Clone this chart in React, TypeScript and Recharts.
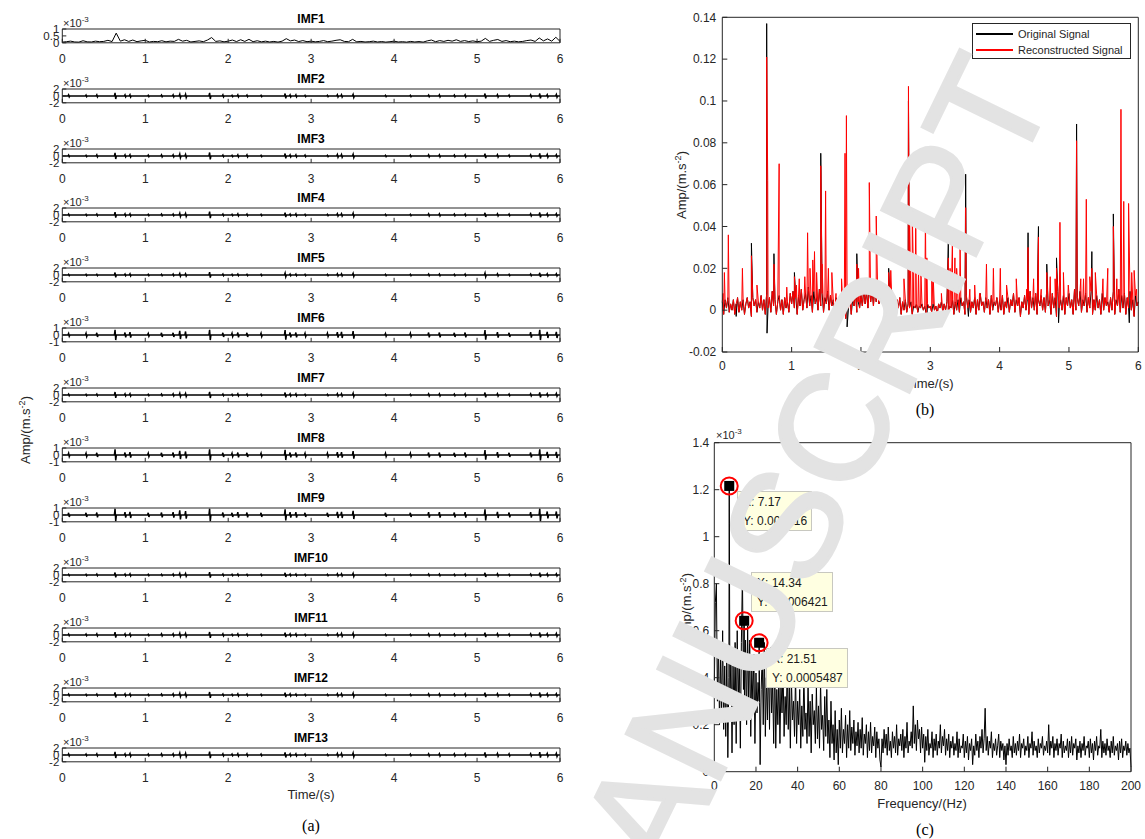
import React from "react";
import { ComposedChart, Line, LineChart, ReferenceDot, XAxis, YAxis } from "recharts";

const FONT = "'Liberation Sans', Arial, Helvetica, sans-serif";
const SERIF = "'Liberation Serif', 'Times New Roman', serif";
const INK = "#262626";
const RED = "#ff0000";
const MARK = "#e3e3e3";

// ---------- (a) IMF components, amplitude in 1e-3 m/s^2 ----------
const imfTitles = ["IMF1", "IMF2", "IMF3", "IMF4", "IMF5", "IMF6", "IMF7", "IMF8", "IMF9", "IMF10", "IMF11", "IMF12", "IMF13"];
const imfRange = [1, 2, 2, 2, 2, 1, 2, 1, 1, 2, 2, 2, 2];
const timeTicks = [0, 1, 2, 3, 4, 5, 6];

// IMF1 envelope sampled every 0.05 s
const imf1 = [
  0.05, 0.08, 0.12, 0.06, 0.05, 0.15, 0.07, 0.06, 0.12, 0.08, 0.1, 0.18, 0.09, 0.7, 0.12, 0.22, 0.1, 0.2, 0.08, 0.14,
  0.18, 0.06, 0.1, 0.08, 0.15, 0.07, 0.12, 0.1, 0.25, 0.12, 0.18, 0.06, 0.1, 0.14, 0.08, 0.2, 0.38, 0.1, 0.14, 0.07,
  0.12, 0.2, 0.09, 0.22, 0.1, 0.25, 0.08, 0.15, 0.07, 0.12, 0.06, 0.1, 0.05, 0.12, 0.3, 0.14, 0.2, 0.09, 0.16, 0.08,
  0.12, 0.07, 0.1, 0.16, 0.08, 0.12, 0.18, 0.22, 0.1, 0.08, 0.25, 0.07, 0.1, 0.06, 0.08, 0.12, 0.06, 0.09, 0.05, 0.08,
  0.12, 0.06, 0.08, 0.05, 0.1, 0.06, 0.09, 0.05, 0.14, 0.2, 0.08, 0.16, 0.1, 0.18, 0.12, 0.22, 0.1, 0.16, 0.09, 0.14,
  0.08, 0.12, 0.32, 0.1, 0.18, 0.24, 0.1, 0.16, 0.08, 0.12, 0.07, 0.1, 0.16, 0.2, 0.1, 0.35, 0.14, 0.28, 0.12, 0.4,
  0.1,
];

// impact bursts shared by IMF2..IMF13 (s)
const burstTimes = [
  0.08, 0.29, 0.42, 0.64, 0.76, 0.82, 1.04, 1.2, 1.34, 1.42, 1.49, 1.78, 1.94, 2.05, 2.12, 2.23, 2.4, 2.69, 2.75,
  2.82, 2.93, 3.2, 3.32, 3.37, 3.51, 3.9, 4.2, 4.42, 4.55, 4.73, 4.86, 5.1, 5.25, 5.39, 5.65, 5.76, 5.85, 5.96,
];

const imfBursts = [
  [0.3, 0.25, 0.3, 0.9, 0.3, 0.35, 0.2, 0.25, 0.3, 0.5, 0.5, 0.9, 0.3, 0.2, 0.3, 0.25, 0.2, 0.7, 0.3, 0.3, 0.2, 0.2, 0.35, 0.35, 0.45, 0.2, 0.2, 0.25, 0.3, 0.25, 0.3, 0.7, 0.35, 0.25, 0.3, 0.7, 0.35, 0.4],
  [0.25, 0.2, 0.3, 0.9, 0.3, 0.35, 0.25, 0.3, 0.3, 0.55, 0.45, 1.0, 0.25, 0.2, 0.3, 0.3, 0.2, 0.7, 0.3, 0.3, 0.25, 0.2, 0.4, 0.4, 0.5, 0.2, 0.25, 0.3, 0.3, 0.25, 0.3, 0.65, 0.35, 0.25, 0.3, 0.75, 0.4, 0.35],
  [0.25, 0.2, 0.25, 0.8, 0.3, 0.3, 0.2, 0.25, 0.25, 0.5, 0.45, 0.95, 0.25, 0.2, 0.3, 0.25, 0.2, 0.65, 0.25, 0.3, 0.2, 0.2, 0.35, 0.35, 0.5, 0.2, 0.2, 0.3, 0.3, 0.25, 0.25, 0.6, 0.3, 0.25, 0.3, 0.7, 0.35, 0.35],
  [0.2, 0.2, 0.2, 0.7, 0.25, 0.3, 0.2, 0.2, 0.25, 0.4, 0.35, 0.8, 0.25, 0.2, 0.25, 0.2, 0.2, 0.55, 0.25, 0.25, 0.2, 0.2, 0.3, 0.3, 0.45, 0.2, 0.2, 0.25, 0.25, 0.2, 0.25, 0.55, 0.3, 0.2, 0.25, 0.6, 0.3, 0.3],
  [0.2, 0.25, 0.3, 0.75, 0.35, 0.4, 0.2, 0.3, 0.3, 0.6, 0.5, 0.75, 0.3, 0.25, 0.35, 0.3, 0.25, 0.7, 0.35, 0.35, 0.25, 0.25, 0.4, 0.45, 0.55, 0.2, 0.25, 0.35, 0.35, 0.3, 0.35, 0.7, 0.4, 0.3, 0.4, 0.75, 0.45, 0.45],
  [0.25, 0.2, 0.25, 0.85, 0.3, 0.35, 0.2, 0.25, 0.3, 0.5, 0.45, 0.9, 0.25, 0.2, 0.3, 0.25, 0.2, 0.7, 0.3, 0.3, 0.2, 0.2, 0.35, 0.35, 0.5, 0.2, 0.2, 0.3, 0.3, 0.25, 0.3, 0.7, 0.35, 0.25, 0.3, 0.75, 0.35, 0.4],
  [0.25, 0.25, 0.3, 0.8, 0.35, 0.4, 0.25, 0.3, 0.35, 0.6, 0.5, 0.8, 0.3, 0.25, 0.35, 0.3, 0.25, 0.75, 0.35, 0.35, 0.25, 0.25, 0.4, 0.4, 0.55, 0.25, 0.25, 0.35, 0.35, 0.3, 0.35, 0.7, 0.4, 0.3, 0.35, 0.8, 0.45, 0.45],
  [0.3, 0.3, 0.35, 0.9, 0.4, 0.45, 0.3, 0.35, 0.4, 0.65, 0.55, 0.9, 0.35, 0.3, 0.4, 0.35, 0.3, 0.8, 0.4, 0.4, 0.3, 0.3, 0.45, 0.45, 0.6, 0.3, 0.3, 0.4, 0.4, 0.35, 0.4, 0.8, 0.45, 0.35, 0.4, 0.9, 0.5, 0.5],
  [0.2, 0.2, 0.25, 0.7, 0.25, 0.3, 0.2, 0.2, 0.25, 0.45, 0.4, 0.8, 0.25, 0.2, 0.25, 0.2, 0.2, 0.6, 0.25, 0.25, 0.2, 0.2, 0.3, 0.3, 0.45, 0.2, 0.2, 0.25, 0.25, 0.2, 0.25, 0.6, 0.3, 0.2, 0.25, 0.65, 0.3, 0.3],
  [0.25, 0.25, 0.3, 0.8, 0.3, 0.35, 0.2, 0.3, 0.3, 0.5, 0.45, 0.85, 0.3, 0.2, 0.3, 0.25, 0.2, 0.65, 0.3, 0.3, 0.2, 0.2, 0.35, 0.4, 0.5, 0.2, 0.2, 0.3, 0.3, 0.25, 0.3, 0.65, 0.35, 0.25, 0.3, 0.7, 0.35, 0.4],
  [0.25, 0.2, 0.25, 0.75, 0.3, 0.3, 0.2, 0.25, 0.3, 0.5, 0.45, 0.85, 0.25, 0.2, 0.3, 0.25, 0.2, 0.65, 0.3, 0.25, 0.2, 0.2, 0.35, 0.35, 0.5, 0.2, 0.2, 0.3, 0.3, 0.25, 0.3, 0.65, 0.35, 0.25, 0.3, 0.7, 0.35, 0.35],
  [0.3, 0.25, 0.3, 0.9, 0.3, 0.4, 0.25, 0.3, 0.3, 0.55, 0.5, 0.95, 0.3, 0.25, 0.35, 0.3, 0.25, 0.75, 0.3, 0.3, 0.25, 0.2, 0.4, 0.4, 0.55, 0.2, 0.25, 0.3, 0.35, 0.3, 0.3, 0.75, 0.4, 0.3, 0.35, 0.8, 0.4, 0.45],
];

// ---------- (b) original vs reconstructed, m/s^2 ----------
// noise floor sampled every 0.02 s (shared by both signals)
const noiseFloor = [
  0.004, -0.002, 0.005, 0.001, 0.006, -0.001, 0.003, 0.0, 0.005, -0.002,
  0.003, 0.006, -0.001, 0.004, 0.0, 0.005, -0.002, 0.003, 0.006, 0.001,
  0.004, -0.003, 0.006, 0.002, 0.005, -0.001, 0.004, 0.001, 0.007, 0.0,
  0.005, -0.002, 0.008, 0.001, 0.006, -0.001, 0.009, 0.002, 0.005, -0.002,
  0.004, 0.007, 0.0, 0.005, -0.002, 0.006, 0.001, 0.004, -0.001, 0.008,
  0.003, 0.009, 0.001, 0.006, -0.002, 0.007, 0.002, 0.01, 0.0, 0.005,
  0.008, 0.001, 0.011, 0.002, 0.007, -0.001, 0.009, 0.003, 0.006, 0.0,
  0.01, 0.002, 0.008, -0.001, 0.006, 0.003, 0.009, 0.0, 0.007, 0.002,
  0.005, -0.002, 0.006, 0.001, 0.004, -0.003, 0.007, 0.002, 0.005, -0.004,
  0.006, 0.001, 0.008, -0.002, 0.005, 0.002, 0.009, -0.001, 0.004, 0.001,
  0.007, 0.002, 0.01, 0.003, 0.009, 0.001, 0.011, 0.004, 0.01, 0.002,
  0.012, 0.004, 0.011, 0.003, 0.012, 0.005, 0.01, 0.002, 0.011, 0.004,
  0.009, 0.002, 0.01, 0.001, 0.007, -0.001, 0.005, 0.001, 0.006, -0.002,
  0.004, 0.0, 0.005, -0.001, 0.003, 0.001, 0.004, -0.002, 0.002, 0.001,
  0.003, -0.001, 0.002, 0.001, 0.003, 0.0, 0.002, -0.002, 0.003, 0.001,
  0.002, -0.001, 0.003, 0.0, 0.002, -0.002, 0.003, 0.001, 0.004, -0.001,
  0.003, 0.0, 0.004, -0.001, 0.002, 0.001, 0.005, -0.002, 0.004, 0.0,
  0.005, -0.001, 0.006, 0.002, 0.004, -0.002, 0.007, 0.001, 0.005, -0.001,
  0.004, 0.001, 0.006, -0.002, 0.005, 0.0, 0.008, 0.002, 0.004, -0.001,
  0.006, 0.001, 0.005, -0.002, 0.007, 0.0, 0.004, 0.002, 0.006, -0.001,
  0.005, 0.0, 0.007, -0.002, 0.004, 0.001, 0.006, -0.001, 0.005, 0.002,
  0.008, -0.001, 0.005, 0.002, 0.006, -0.003, 0.004, 0.001, 0.007, 0.0,
  0.005, -0.002, 0.009, 0.001, 0.006, 0.0, 0.008, -0.002, 0.005, 0.002,
  0.007, 0.0, 0.006, -0.001, 0.01, 0.002, 0.005, -0.002, 0.008, 0.001,
  0.006, -0.003, 0.009, 0.001, 0.005, 0.0, 0.007, -0.002, 0.006, 0.002,
  0.008, 0.001, 0.005, -0.002, 0.01, 0.0, 0.006, 0.002, 0.009, -0.001,
  0.005, 0.002, 0.008, -0.001, 0.006, 0.001, 0.009, -0.002, 0.005, 0.0,
  0.007, 0.001, 0.005, -0.002, 0.008, 0.0, 0.006, 0.002, 0.004, -0.001,
  0.006, 0.0, 0.009, -0.002, 0.005, 0.002, 0.01, -0.001, 0.007, 0.001,
  0.008, -0.002, 0.006, 0.001, 0.009, 0.0, 0.005, -0.003, 0.007, 0.002,
  0.004,
];

// [time s, amplitude]
const reconSpikes = [
  [0.01, 0.008], [0.03, 0.018], [0.087, 0.036], [0.29, 0.02], [0.42, 0.026], [0.5, 0.012], [0.64, 0.121], [0.655, 0.062],
  [0.745, 0.022], [0.82, 0.07], [0.93, 0.011], [1.04, 0.016], [1.07, 0.012], [1.11, 0.015], [1.19, 0.016], [1.23, 0.037],
  [1.265, 0.02], [1.305, 0.024], [1.33, 0.028], [1.36, 0.018], [1.42, 0.069], [1.44, 0.022], [1.49, 0.057], [1.53, 0.02],
  [1.58, 0.018], [1.64, 0.008], [1.72, 0.015], [1.77, 0.075], [1.79, 0.093], [1.86, 0.005], [1.94, 0.022], [1.965, 0.02],
  [2.04, 0.01], [2.12, 0.061], [2.22, 0.045], [2.4, 0.018], [2.43, 0.019], [2.62, 0.015], [2.685, 0.107], [2.7, 0.048],
  [2.74, 0.048], [2.755, 0.02], [2.79, 0.045], [2.83, 0.019], [2.865, 0.018], [2.93, 0.045], [2.95, 0.025], [3.02, 0.02],
  [3.04, 0.018], [3.16, 0.008], [3.26, 0.025], [3.285, 0.02], [3.32, 0.036], [3.355, 0.025], [3.38, 0.02], [3.43, 0.03],
  [3.51, 0.049], [3.57, 0.01], [3.64, 0.012], [3.71, 0.008], [3.81, 0.022], [3.91, 0.02], [4.01, 0.02], [4.1, 0.012],
  [4.24, 0.015], [4.39, 0.01], [4.41, 0.03], [4.49, 0.015], [4.56, 0.035], [4.6, 0.01], [4.68, 0.018], [4.73, 0.016],
  [4.8, 0.015], [4.82, 0.02], [4.87, 0.042], [4.92, 0.018], [4.99, 0.012], [5.11, 0.081], [5.17, 0.015], [5.21, 0.015],
  [5.25, 0.053], [5.3, 0.016], [5.33, 0.02], [5.38, 0.018], [5.49, 0.015], [5.56, 0.02], [5.64, 0.04], [5.69, 0.015],
  [5.75, 0.096], [5.79, 0.052], [5.86, 0.051], [5.905, 0.018], [5.94, 0.019], [5.975, 0.01],
];

// peaks / dips where the original rises above the reconstruction
const origSpikes = [
  [0.2, -0.003], [0.42, 0.032], [0.64, 0.137], [0.645, -0.011], [0.745, 0.027], [1.04, 0.018], [1.42, 0.075],
  [1.8, -0.008], [1.94, 0.027], [2.4, 0.02], [2.685, 0.1], [2.95, -0.004], [3.26, 0.032], [3.51, 0.065], [3.55, -0.003],
  [4.41, 0.037], [4.56, 0.04], [4.68, 0.022], [4.82, 0.025], [4.85, -0.006], [5.11, 0.089], [5.33, 0.028], [5.64, 0.046],
  [5.87, -0.006],
];
const ampTicks = [-0.02, 0, 0.02, 0.04, 0.06, 0.08, 0.1, 0.12, 0.14];

// ---------- (c) spectrum, amplitude in 1e-3 m/s^2, 0.5 Hz bins 0..200 Hz ----------
const spectrumAmp = [
  0.35, 0.72, 0.8, 0.3, 0.55, 0.2, 0.48, 0.25, 0.6, 0.18,
  0.45, 0.15, 0.52, 0.06, 0.4, 0.3, 0.5, 0.08, 0.45, 0.2,
  0.55, 0.12, 0.6, 0.3, 0.48, 0.1, 0.55, 0.84, 0.35, 0.25,
  0.56, 0.2, 0.62, 0.28, 0.56, 0.15, 0.45, 0.3, 0.5, 0.12,
  0.42, 0.25, 0.38, 0.3, 0.03, 0.35, 0.5, 0.2, 0.55, 0.15,
  0.4, 0.22, 0.48, 0.18, 0.53, 0.25, 0.38, 0.12, 0.5, 0.1,
  0.35, 0.2, 0.42, 0.12, 0.38, 0.25, 0.45, 0.15, 0.32, 0.2,
  0.46, 0.18, 0.36, 0.1, 0.4, 0.22, 0.3, 0.15, 0.42, 0.12,
  0.3, 0.2, 0.35, 0.1, 0.28, 0.15, 0.42, 0.18, 0.25, 0.12,
  0.38, 0.15, 0.3, 0.08, 0.33, 0.2, 0.26, 0.12, 0.36, 0.14,
  0.28, 0.1, 0.38, 0.18, 0.24, 0.09, 0.32, 0.15, 0.35, 0.12,
  0.22, 0.06, 0.3, 0.12, 0.2, 0.05, 0.26, 0.08, 0.18, 0.03,
  0.22, 0.1, 0.27, 0.08, 0.18, 0.12, 0.24, 0.06, 0.2, 0.1,
  0.26, 0.09, 0.19, 0.12, 0.22, 0.07, 0.17, 0.11, 0.21, 0.08,
  0.18, 0.1, 0.23, 0.07, 0.16, 0.12, 0.2, 0.06, 0.17, 0.09,
  0.21, 0.08, 0.15, 0.11, 0.19, 0.06, 0.17, 0.1, 0.14, 0.05,
  0.02, 0.14, 0.08, 0.18, 0.1, 0.16, 0.07, 0.19, 0.09, 0.13,
  0.06, 0.17, 0.1, 0.15, 0.08, 0.2, 0.07, 0.14, 0.11, 0.16,
  0.09, 0.18, 0.06, 0.15, 0.1, 0.21, 0.08, 0.13, 0.11, 0.17,
  0.1, 0.28, 0.12, 0.2, 0.09, 0.22, 0.14, 0.18, 0.08, 0.19,
  0.1, 0.16, 0.04, 0.15, 0.09, 0.18, 0.07, 0.12, 0.1, 0.17,
  0.06, 0.14, 0.09, 0.16, 0.07, 0.13, 0.1, 0.2, 0.08, 0.15,
  0.11, 0.18, 0.07, 0.14, 0.09, 0.16, 0.06, 0.13, 0.1, 0.15,
  0.07, 0.12, 0.09, 0.17, 0.06, 0.14, 0.08, 0.11, 0.1, 0.16,
  0.06, 0.13, 0.08, 0.15, 0.05, 0.12, 0.09, 0.14, 0.03, 0.11,
  0.07, 0.16, 0.09, 0.13, 0.06, 0.15, 0.1, 0.18, 0.08, 0.14,
  0.27, 0.09, 0.15, 0.07, 0.13, 0.1, 0.17, 0.06, 0.12, 0.09,
  0.14, 0.07, 0.11, 0.16, 0.06, 0.13, 0.09, 0.12, 0.05, 0.11,
  0.03, 0.12, 0.07, 0.14, 0.09, 0.11, 0.06, 0.15, 0.08, 0.12,
  0.07, 0.13, 0.09, 0.16, 0.06, 0.12, 0.1, 0.14, 0.07, 0.11,
  0.09, 0.15, 0.06, 0.12, 0.1, 0.17, 0.07, 0.13, 0.09, 0.11,
  0.06, 0.14, 0.08, 0.12, 0.1, 0.15, 0.07, 0.11, 0.09, 0.13,
  0.08, 0.2, 0.07, 0.13, 0.1, 0.15, 0.06, 0.12, 0.09, 0.14,
  0.07, 0.12, 0.1, 0.16, 0.06, 0.13, 0.08, 0.11, 0.09, 0.14,
  0.06, 0.13, 0.08, 0.15, 0.07, 0.12, 0.1, 0.14, 0.05, 0.11,
  0.08, 0.13, 0.06, 0.12, 0.09, 0.15, 0.07, 0.11, 0.1, 0.13,
  0.06, 0.14, 0.08, 0.12, 0.05, 0.13, 0.09, 0.15, 0.07, 0.11,
  0.1, 0.18, 0.06, 0.13, 0.08, 0.12, 0.07, 0.14, 0.09, 0.11,
  0.06, 0.13, 0.08, 0.15, 0.07, 0.11, 0.09, 0.12, 0.05, 0.13,
  0.08, 0.14, 0.06, 0.11, 0.09, 0.13, 0.07, 0.12, 0.08, 0.1,
  0.02,
];
// data-tip peaks: rotating frequency and harmonics
const harmonicPeaks = [
  { f: 7.17, v: 1.216 },
  { f: 14.34, v: 0.6421 },
  { f: 21.51, v: 0.5487 },
];
const freqTicks = [0, 20, 40, 60, 80, 100, 120, 140, 160, 180, 200];
const specTicks = [0, 0.2, 0.4, 0.6, 0.8, 1, 1.2, 1.4];

// data-tip box placement
const tipBoxes = [
  { left: 737, top: 491, width: 75 },
  { left: 751, top: 572, width: 82 },
  { left: 766, top: 648, width: 82 },
];

const imf1Data = imf1.map((v, i) => ({ t: i * 0.05, v }));

function burstSeries(amps: number[]) {
  const pts = [{ t: 0, v: 0 }];
  burstTimes.forEach((t, i) => {
    const a = amps[i];
    pts.push({ t: t - 0.012, v: 0 }, { t: t - 0.004, v: a }, { t: t + 0.004, v: -a }, { t: t + 0.012, v: 0 });
  });
  pts.push({ t: 6, v: 0 });
  return pts;
}

function withSpikes(spikes: number[][]) {
  const pts = noiseFloor.map((v, i) => ({ t: i * 0.02, v }));
  spikes.forEach(([t, v]) => pts.push({ t, v }));
  return pts.sort((a, b) => a.t - b.t);
}

const originalData = withSpikes(origSpikes);
const reconData = withSpikes(reconSpikes);

const spectrumData = spectrumAmp
  .map((v, i) => ({ f: i * 0.5, v }))
  .concat(harmonicPeaks.map((p) => ({ f: p.f, v: p.v })))
  .sort((a, b) => a.f - b.f);

const tick = { fontSize: 12, fill: INK, fontFamily: FONT };
const fmt = (v: number) => String(Number(v.toFixed(3)));

const abs = (left: number, top: number, extra: React.CSSProperties = {}): React.CSSProperties => ({
  position: "absolute",
  left,
  top,
  ...extra,
});

function AmpLabel({ x, y }: { x: number; y: number }) {
  return (
    <div
      style={abs(x - 60, y - 10, {
        width: 120,
        height: 20,
        textAlign: "center",
        transform: "rotate(-90deg)",
        fontFamily: FONT,
        fontSize: 13,
        color: INK,
        lineHeight: "20px",
        whiteSpace: "nowrap",
      })}
    >
      Amp/(m.s<sup style={{ fontSize: 9 }}>-2</sup>)
    </div>
  );
}

function Exponent({ x, y }: { x: number; y: number }) {
  return (
    <div style={abs(x, y - 8, { fontFamily: FONT, fontSize: 11, color: INK, lineHeight: "14px", whiteSpace: "nowrap" })}>
      ×10<sup style={{ fontSize: 8 }}>-3</sup>
    </div>
  );
}

// axes are 1px thick (zero-sized axes are not drawn); margins are reduced to match
function BoxAxes({ xKey, xDomain, xTicks, yDomain, yTicks, ts, xm, ym, yFont }: any) {
  return [
    <XAxis key="xb" type="number" dataKey={xKey} domain={xDomain} ticks={xTicks} interval={0} height={1} stroke={INK}
      tickSize={-ts} tickMargin={xm} tick={tick} />,
    <XAxis key="xt" xAxisId="top" orientation="top" type="number" dataKey={xKey} domain={xDomain} ticks={xTicks}
      interval={0} height={1} stroke={INK} tickSize={-ts} tick={false} />,
    <YAxis key="yl" type="number" domain={yDomain} ticks={yTicks} interval={0} width={1} stroke={INK} tickSize={-ts}
      tickMargin={ym} tick={{ ...tick, fontSize: yFont }} tickFormatter={fmt} />,
    <YAxis key="yr" yAxisId="right" orientation="right" type="number" domain={yDomain} ticks={yTicks} interval={0}
      width={1} stroke={INK} tickSize={-ts} tick={false} />,
  ];
}

function ImfPanel({ k }: { k: number }) {
  const top = 28.7 + 59.9 * k;
  const r = imfRange[k];
  const domain = k === 0 ? [0, 1] : [-r, r];
  const yTicks = k === 0 ? [0, 0.5, 1] : [-r, 0, r];
  const data = k === 0 ? imf1Data : burstSeries(imfBursts[k - 1]);
  return (
    <>
      <div style={abs(0, top - 10)}>
        <LineChart width={575} height={50} margin={{ top: 9, right: 14, bottom: 25.2, left: 61.3 }}>
          {BoxAxes({ xKey: "t", xDomain: [0, 6], xTicks: timeTicks, yDomain: domain, yTicks, ts: 4, xm: 15.2, ym: 7, yFont: 11.5 })}
          <Line data={data} dataKey="v" type="linear" stroke="#000" strokeWidth={k === 0 ? 1 : 1.5} dot={false} isAnimationActive={false} />
        </LineChart>
      </div>
      <div style={abs(211, top - 17, { width: 200, textAlign: "center", fontFamily: FONT, fontWeight: "bold", fontSize: 12, color: "#000", lineHeight: "14px" })}>
        {imfTitles[k]}
      </div>
      <Exponent x={63} y={top - 8} />
    </>
  );
}

function Legend() {
  const rows = [
    { label: "Original Signal", color: "#000" },
    { label: "Reconstructed Signal", color: RED },
  ];
  return (
    <div style={abs(972, 23, { width: 157, height: 34, border: `1px solid ${INK}`, background: "#fff" })}>
      {rows.map((r, i) => (
        <div key={r.label} style={abs(3, 3 + i * 16, { height: 14, display: "flex", alignItems: "center" })}>
          <div style={{ width: 37, height: 1.2, background: r.color }} />
          <span style={{ marginLeft: 5, fontFamily: FONT, fontSize: 11, color: INK, whiteSpace: "nowrap" }}>{r.label}</span>
        </div>
      ))}
    </div>
  );
}

function DataTips() {
  return (
    <>
      {harmonicPeaks.map((p, i) => (
        <div
          key={p.f}
          style={abs(tipBoxes[i].left, tipBoxes[i].top, {
            width: tipBoxes[i].width,
            height: 40,
            background: "#ffffe1",
            border: "1px solid #c8c8c0",
            boxSizing: "border-box",
            padding: "1px 0 0 5px",
            fontFamily: FONT,
            fontSize: 12,
            lineHeight: "19px",
            color: "#1a1a1a",
            whiteSpace: "nowrap",
          })}
        >
          <div>X: {p.f}</div>
          <div>Y: {(p.v / 1000).toPrecision(4)}</div>
        </div>
      ))}
    </>
  );
}

const TipMarker = (props: any) => (
  <g>
    <rect x={props.cx - 5} y={props.cy - 5} width={10} height={10} fill="#000" />
    <circle cx={props.cx} cy={props.cy} r={8.5} fill="none" stroke={RED} strokeWidth={2} />
  </g>
);

const caption = (text: string, x: number, y: number) => (
  <div style={abs(x - 40, y - 10, { width: 80, textAlign: "center", fontFamily: SERIF, fontSize: 16, color: "#000", lineHeight: "20px" })}>
    {text}
  </div>
);

const axisTitle = (text: string, x: number, y: number) => (
  <div style={abs(x - 80, y - 9, { width: 160, textAlign: "center", fontFamily: FONT, fontSize: 13, color: INK, lineHeight: "18px" })}>
    {text}
  </div>
);

export default function App() {
  return (
    <div style={{ position: "absolute", left: 0, top: 0, width: 1145, height: 839, background: "#fff", overflow: "hidden" }}>
      {imfTitles.map((_, k) => (
        <ImfPanel key={k} k={k} />
      ))}
      <AmpLabel x={22} y={430} />
      {axisTitle("Time/(s)", 311, 795)}
      {caption("(a)", 311, 826)}

      {/* (b) */}
      <div style={abs(660, 0)}>
        <LineChart width={485} height={400} margin={{ top: 16.3, right: 5.7, bottom: 47, left: 61.3 }}>
          {BoxAxes({ xKey: "t", xDomain: [0, 6], xTicks: timeTicks, yDomain: [-0.02, 0.14], yTicks: ampTicks, ts: 5, xm: 14.7, ym: 11, yFont: 12 })}
          <Line data={originalData} dataKey="v" type="linear" stroke="#000" strokeWidth={1} dot={false} isAnimationActive={false} />
          <Line data={reconData} dataKey="v" type="linear" stroke={RED} strokeWidth={1} dot={false} isAnimationActive={false} />
        </LineChart>
      </div>
      <Legend />
      <AmpLabel x={678} y={185} />
      {axisTitle("Time/(s)", 930, 384)}
      {caption("(b)", 925, 410)}

      {/* (c) */}
      <div style={abs(650, 420)}>
        <ComposedChart width={495} height={400} margin={{ top: 21.7, right: 13, bottom: 47.3, left: 63.3 }}>
          {BoxAxes({ xKey: "f", xDomain: [0, 200], xTicks: freqTicks, yDomain: [0, 1.4], yTicks: specTicks, ts: 5, xm: 14.7, ym: 10, yFont: 12 })}
          <Line data={spectrumData} dataKey="v" type="linear" stroke="#000" strokeWidth={1} dot={false} isAnimationActive={false} />
          {harmonicPeaks.map((p) => (
            <ReferenceDot key={p.f} x={p.f} y={p.v} r={8} shape={TipMarker} />
          ))}
        </ComposedChart>
      </div>
      <Exponent x={716} y={433} />
      <DataTips />
      <AmpLabel x={683} y={607} />
      {axisTitle("Frequency/(Hz)", 922, 804)}
      {caption("(c)", 925, 830)}

      {/* watermark */}
      <svg width={1145} height={839} style={{ position: "absolute", left: 0, top: 0, pointerEvents: "none" }}>
        <text
          x={786}
          y={520}
          dy="0.36em"
          textAnchor="middle"
          transform="rotate(-64 786 520)"
          fontFamily={FONT}
          fontSize={152}
          fill={MARK}
          stroke={MARK}
          strokeWidth={3}
        >
          MANUSCRIPT
        </text>
      </svg>
    </div>
  );
}
